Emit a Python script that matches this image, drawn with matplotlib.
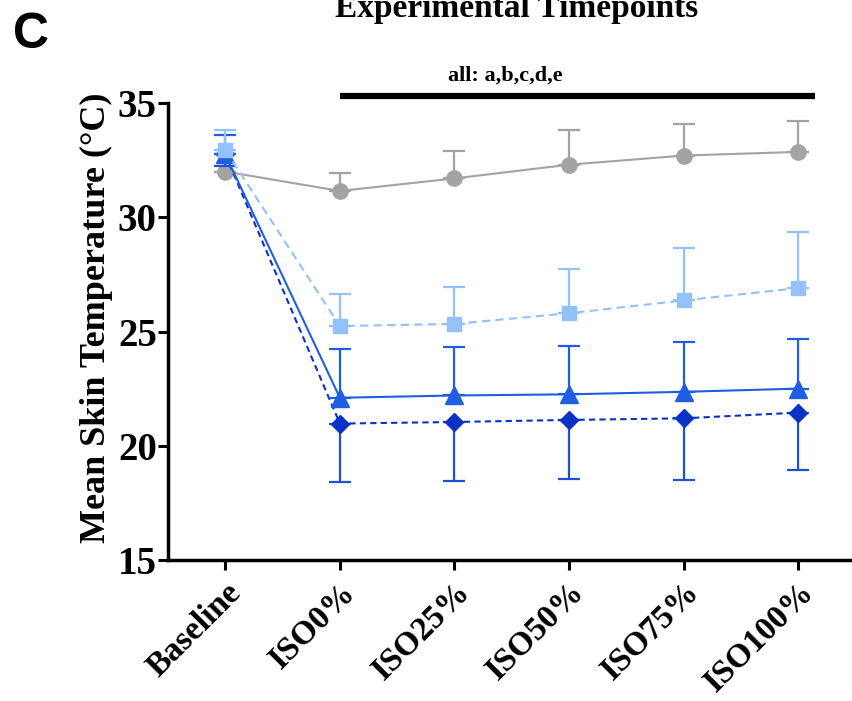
import numpy as np
import matplotlib.pyplot as plt

timepoints = ["Baseline", "ISO0%", "ISO25%", "ISO50%", "ISO75%", "ISO100%"]

# mean skin temperature per condition, with the one-sided SD that is drawn
grey_mean = [32.0, 31.15, 31.7, 32.3, 32.7, 32.86]
grey_sd = [0.0, 0.8, 1.2, 1.5, 1.4, 1.35]

light_mean = [32.94, 25.24, 25.33, 25.8, 26.36, 26.9]
light_sd = [0.9, 1.4, 1.62, 1.94, 2.28, 2.45]

tri_mean = [32.75, 22.1, 22.2, 22.25, 22.36, 22.5]
tri_sd = [0.85, 2.13, 2.1, 2.13, 2.18, 2.17]

dia_mean = [32.75, 20.97, 21.04, 21.13, 21.2, 21.45]
dia_sd = [0.5, 2.55, 2.6, 2.6, 2.7, 2.5]

serif = "Liberation Serif"
x = np.arange(len(timepoints))

fig = plt.figure(figsize=(8.52, 7.01), dpi=100)
ax = fig.add_axes([168 / 852, 141 / 701, 1 - 168 / 852, 457 / 701])

def series(mean, sd, col, ecol, marker, ms, ls, z, up=True):
    mean = np.array(mean)
    sd = np.array(sd)
    if up:
        yerr = [np.zeros_like(sd), sd]
    else:
        yerr = [sd, np.zeros_like(sd)]
    ax.errorbar(x, mean, yerr=yerr, fmt="none", ecolor=ecol, elinewidth=1.6,
                capsize=8, capthick=1.6, zorder=z)
    ax.plot(x, mean, color=col, ls=ls, lw=1.5, marker=marker, ms=ms,
            mfc=col, mec=col, zorder=z + 0.5)

series(grey_mean, grey_sd, "#a3a3a6", "#a3a3a6", "o", 11, "-", 2)
series(dia_mean, dia_sd, "#0a32c4", "#1f4fd6", "D", 9, (0, (3, 2)), 3, up=False)
series(tri_mean, tri_sd, "#1f5ee3", "#1f5ee3", "^", 13, "-", 4)
series(light_mean, light_sd, "#93c1f9", "#93c1f9", "s", 10, (0, (4, 2.5)), 5)

ax.set_xlim(-0.5, 5.47)
ax.set_ylim(15, 35)
ax.set_yticks([15, 20, 25, 30, 35])
ax.set_xticks(x)
ax.set_xticklabels(timepoints, rotation=45, ha="right", rotation_mode="anchor",
                   fontfamily=serif, fontweight="bold", fontsize=24)
for lab in ax.get_yticklabels():
    lab.set_fontfamily(serif)
    lab.set_fontweight("bold")
    lab.set_fontsize(28)

for s in ["top", "right"]:
    ax.spines[s].set_visible(False)
for s in ["left", "bottom"]:
    ax.spines[s].set_linewidth(2.5)
ax.tick_params(axis="both", direction="out", length=7, width=2.2)
ax.tick_params(axis="y", pad=1)
ax.tick_params(axis="x", pad=5)

ax.set_ylabel("Mean Skin Temperature (°C)", fontfamily=serif,
              fontweight="bold", fontsize=26)
ax.yaxis.set_label_coords(-0.08, 0.53)

# significance bar
ax.plot([1, 5.15], [35.3, 35.3], color="black", lw=4.5, clip_on=False,
        solid_capstyle="butt")
ax.text(2.44, 36.2, "all: a,b,c,d,e", ha="center", va="center",
        fontfamily=serif, fontweight="bold", fontsize=16)

fig.text(517 / 852, 1 - 8 / 701, "Experimental Timepoints", ha="center",
         va="center", fontfamily=serif, fontweight="bold", fontsize=24)
fig.text(13 / 852, 1 - 35 / 701, "C", ha="left", va="center",
         fontfamily="Liberation Sans", fontweight="bold", fontsize=36)

fig.savefig("out.png", dpi=100)
